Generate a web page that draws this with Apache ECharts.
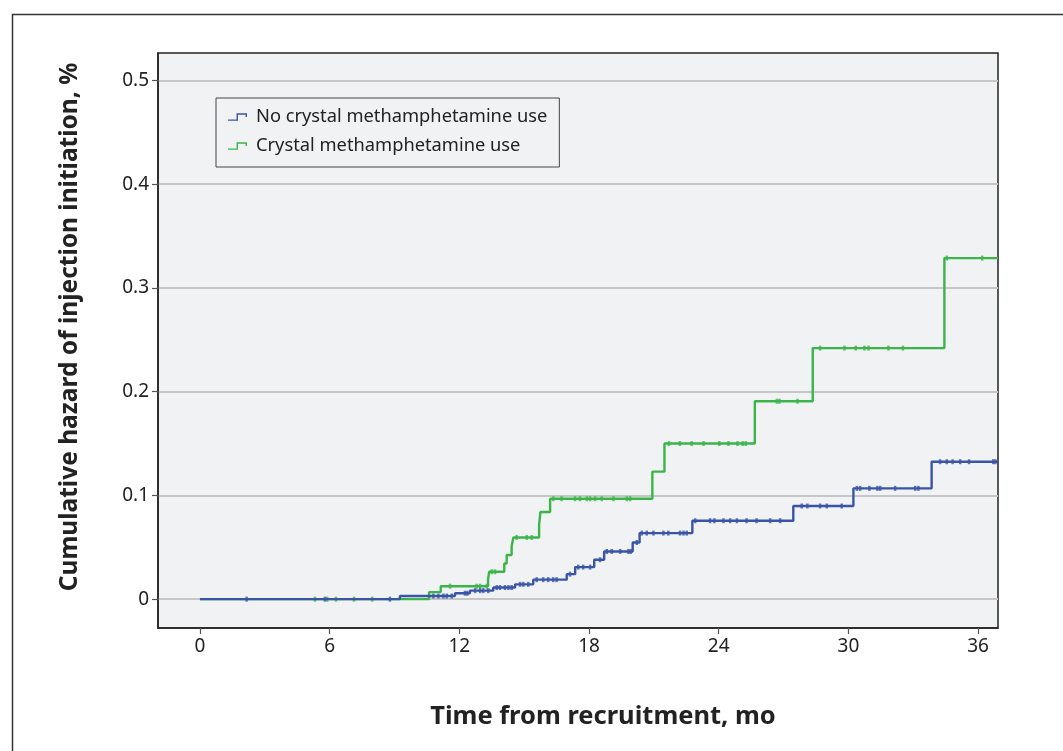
<!DOCTYPE html>
<html>
<head>
<meta charset="utf-8">
<script src="https://cdn.jsdelivr.net/npm/echarts@6/dist/echarts.min.js"></script>
<style>
html,body{margin:0;padding:0;background:#fff;}
#chart{width:1063px;height:751px;}
</style>
</head>
<body>
<div id="chart"></div>
<script>
// ---- Data ----
const seriesNames = ['No crystal methamphetamine use', 'Crystal methamphetamine use'];

// Event times (months) and cumulative hazard after each step
const blueTimes  = [0, 9.25, 11.8, 12.49, 13.57, 14.58, 15.42, 16.97, 17.36, 18.24, 18.7, 20.02, 20.34, 22.78, 27.45, 30.23, 33.85, 36.92];
const blueValues = [0, 0.003, 0.0057, 0.0082, 0.0112, 0.0143, 0.0188, 0.0241, 0.0309, 0.038, 0.046, 0.0546, 0.0637, 0.0756, 0.0898, 0.1068, 0.1325, 0.1325];

const greenTimes  = [0, 10.6, 11.14, 13.33, 13.38, 14.08, 14.19, 14.42, 14.5, 15.69, 15.75, 16.2, 20.93, 21.49, 25.67, 28.35, 34.44, 36.92];
const greenValues = [0, 0.0068, 0.0125, 0.019, 0.0264, 0.0344, 0.0425, 0.051, 0.0595, 0.0714, 0.084, 0.0968, 0.1229, 0.150, 0.1908, 0.242, 0.3288, 0.3288];

// Censoring times (small tick marks on the curves)
const blueCensor = [2.16, 5.78, 8.79, 10.8, 11.03, 11.26, 11.42, 11.65, 12.26, 12.37, 12.73, 12.96, 13.11, 13.34,
  13.73, 13.88, 14.11, 14.27, 14.42, 14.81, 14.96, 15.19, 15.58, 15.88, 16.11, 16.34, 16.5, 17.12, 17.5, 17.73, 18.05,
  18.51, 18.82, 19.05, 19.44, 19.82, 19.93, 20.21, 20.44, 20.67, 20.98, 21.44, 21.67, 22.21, 22.37, 22.52,
  22.91, 23.6, 23.8, 24.22, 24.53, 24.84, 25.29, 25.75, 26.38, 26.84, 27.84, 28.1, 28.69, 29.0, 29.69,
  30.39, 30.54, 30.97, 31.34, 31.47, 32.16, 33.09, 33.24, 34.24, 34.55, 34.82, 35.17, 35.58, 36.7, 36.8];
const greenCensor = [5.32, 5.89, 6.29, 7.13, 7.97, 11.57, 12.8, 12.96, 13.27, 13.5, 13.65, 14.65, 15.12, 15.35,
  16.35, 16.73, 17.35, 17.58, 17.9, 18.05, 18.28, 18.59, 19.13, 19.75, 19.9,
  21.7, 22.2, 22.75, 23.3, 24.03, 24.45, 24.87, 25.11, 25.25, 26.69, 26.81, 27.64,
  28.69, 29.82, 30.34, 30.74, 30.93, 31.85, 32.52, 34.55, 36.19];

const xTicks = [0, 6, 12, 18, 24, 30, 36];
const yTicks = [0, 0.1, 0.2, 0.3, 0.4, 0.5];

const xName = 'Time from recruitment, mo';
const yName = 'Cumulative hazard of injection initiation, %';

// ---- Helpers ----
function pairs(ts, vs) { return ts.map((t, i) => [t, vs[i]]); }
function stepAt(ts, vs, t) {
  let v = vs[0];
  for (let i = 0; i < ts.length; i++) { if (ts[i] <= t) v = vs[i]; }
  return v;
}
function censorPts(cs, ts, vs) { return cs.map(t => [t, stepAt(ts, vs, t)]); }

const BLUE = '#3a55a5';
const GREEN = '#3bb54a';
const FONT = 'Noto Sans';
const stepIcon = 'path://M0,6.5 L9,6.5 L9,0 L20,0 L20,4 L18.5,4 L18.5,1.5 L10.5,1.5 L10.5,8 L0,8 Z';

const chart = echarts.init(document.getElementById('chart'), null, { renderer: 'canvas' });
chart.setOption({
  animation: false,
  backgroundColor: '#ffffff',
  textStyle: { fontFamily: FONT },
  grid: {
    left: 158, top: 53, right: 65, bottom: 123,
    show: true, backgroundColor: '#f1f2f4', borderColor: '#222', borderWidth: 1.5
  },
  legend: {
    orient: 'vertical',
    left: 216, top: 98,
    padding: [9, 12, 11, 12],
    itemGap: 9,
    itemWidth: 19, itemHeight: 8,
    borderColor: '#444', borderWidth: 1,
    backgroundColor: 'rgba(0,0,0,0)',
    textStyle: { fontFamily: FONT, fontSize: 18.3, color: '#222', lineHeight: 20, padding: [0, 0, 0, 4] },
    data: [
      { name: seriesNames[0], icon: stepIcon, itemStyle: { color: BLUE } },
      { name: seriesNames[1], icon: stepIcon, itemStyle: { color: GREEN } }
    ]
  },
  xAxis: {
    type: 'value',
    min: -1.94, max: 36.92,
    axisLine: { show: true, onZero: false, lineStyle: { color: '#222', width: 1.5 } },
    axisTick: { show: true, length: 6, lineStyle: { color: '#555', width: 1.2 }, customValues: xTicks },
    axisLabel: { customValues: xTicks, fontSize: 19, color: '#222', margin: 9, fontFamily: FONT },
    splitLine: { show: false }
  },
  yAxis: {
    type: 'value',
    min: -0.0278, max: 0.5265,
    axisLine: { show: true, onZero: false, lineStyle: { color: '#222', width: 1.5 } },
    axisTick: { show: true, length: 6, lineStyle: { color: '#555', width: 1.2 }, customValues: yTicks },
    axisLabel: {
      customValues: yTicks, fontSize: 19, color: '#222', margin: 9, fontFamily: FONT,
      formatter: v => (Math.abs(v) < 1e-9 ? '0' : v.toFixed(1))
    },
    splitLine: { show: true, lineStyle: { color: '#c6c6c6', width: 2 } }
  },
  graphic: [
    { type: 'rect', left: 10, top: 12, shape: { width: 1100, height: 800 },
      style: { fill: 'none', stroke: '#333', lineWidth: 1.5 }, silent: true, z: -10 },
    { type: 'text', x: 70, y: 327, rotation: Math.PI / 2,
      style: { text: yName, font: 'bold 24.5px "Noto Sans"', fill: '#222', align: 'center', verticalAlign: 'middle' } },
    { type: 'text', x: 603, y: 717,
      style: { text: xName, font: 'bold 25.5px "Noto Sans"', fill: '#222', align: 'center', verticalAlign: 'middle' } }
  ],
  series: [
    { name: seriesNames[1], type: 'line', step: 'end', showSymbol: false, z: 3,
      data: pairs(greenTimes, greenValues), lineStyle: { color: GREEN, width: 2.4 }, itemStyle: { color: GREEN } },
    { name: seriesNames[1], type: 'scatter', z: 3, symbol: 'rect', symbolSize: [2.5, 5],
      data: censorPts(greenCensor, greenTimes, greenValues), itemStyle: { color: GREEN } },
    { name: seriesNames[0], type: 'line', step: 'end', showSymbol: false, z: 4,
      data: pairs(blueTimes, blueValues), lineStyle: { color: BLUE, width: 2.4 }, itemStyle: { color: BLUE } },
    { name: seriesNames[0], type: 'scatter', z: 4, symbol: 'rect', symbolSize: [2.5, 5],
      data: censorPts(blueCensor, blueTimes, blueValues), itemStyle: { color: BLUE } }
  ]
});
</script>
</body>
</html>
